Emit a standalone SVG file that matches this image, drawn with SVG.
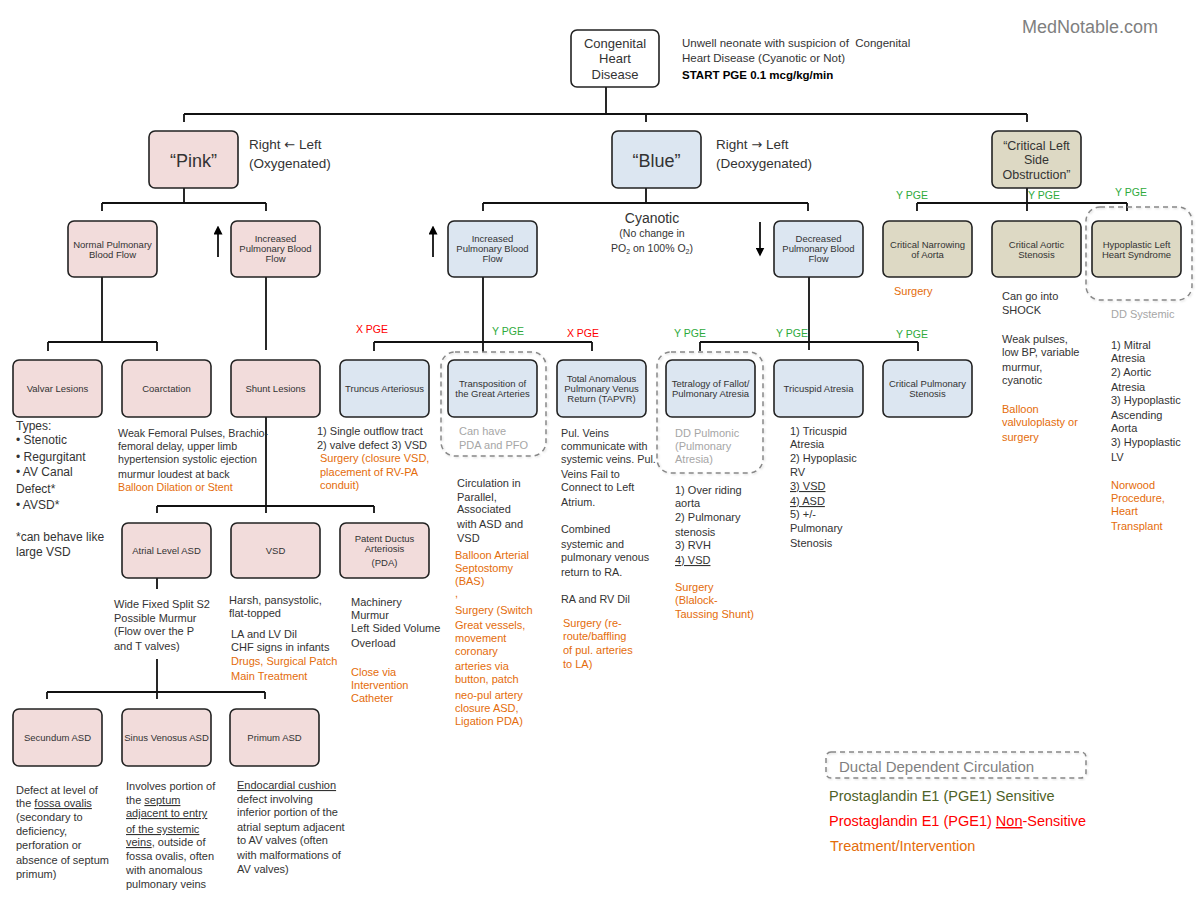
<svg xmlns="http://www.w3.org/2000/svg" width="1200" height="900" viewBox="0 0 1200 900">
<defs>
<marker id="ah" viewBox="0 0 10 10" refX="5" refY="5" markerWidth="5" markerHeight="5" orient="auto-start-reverse"><path d="M0 0 L10 5 L0 10 z" fill="#000"/></marker>
<filter id="sh" x="-10%" y="-10%" width="120%" height="120%"><feDropShadow dx="1" dy="1" stdDeviation="1" flood-color="#000" flood-opacity="0.15"/></filter>
</defs>
<style>
text{font-family:"Liberation Sans",Arial,sans-serif;fill:#333}
.box{stroke:#222;stroke-width:1.6}
.pink{fill:#f2dcdb}.blue{fill:#dce6f1}.tan{fill:#ddd9c4}.white{fill:#fff}
.bl{font-size:9.5px;text-anchor:middle;fill:#333}
.t{font-size:11px}
.o{fill:#e46c0a}
.g{fill:#a6a6a6}
.yp{fill:#2eaa3c;font-size:10.5px;text-anchor:middle}
.xp{fill:#ff0000;font-size:10.5px;text-anchor:middle}
.dash{fill:none;stroke:#888;stroke-width:1.5;stroke-dasharray:5 4}
.con path{fill:none;stroke:#111;stroke-width:1.8}
.u{text-decoration:underline}
.arr{font-family:"DejaVu Sans",sans-serif;font-size:13px}
</style>
<rect width="1200" height="900" fill="#fff"/>

<g id="connectors" class="con">
<path d="M606 87 V114 M184 114 H1027 M184 114 V122 M646 114 V122 M1027 114 V122"/>
<path d="M184 188 V203 M102 203 H266 M102 203 V211 M266 203 V211"/>
<path d="M646 188 V203 M483 203 H808 M483 203 V211 M808 203 V211"/>
<path d="M1027 188 V211 M917 203 H1127 M917 203 V211 M1127 203 V211"/>
<path d="M102 277 V342 M48 342 H157 M48 342 V351 M157 342 V351"/>
<path d="M266 277 V350"/>
<path d="M483 277 V352 M374 342 H592 M374 342 V351 M592 342 V351"/>
<path d="M809 277 V350 M700 342 H918 M700 342 V351 M918 342 V351"/>
<path d="M266 417 V513 M157 506 H374 M157 506 V513 M374 506 V513"/>
<path d="M157 578 V589 M157 659 V692 M47 692 H265 M47 692 V699 M157 692 V699 M265 692 V699"/>
<path d="M218 257 V230" stroke-width="1.5" marker-end="url(#ah)"/>
<path d="M433 257 V230" stroke-width="1.5" marker-end="url(#ah)"/>
<path d="M760 222 V252" stroke-width="1.5" marker-end="url(#ah)"/>
</g>

<text x="1022" y="33" style="font-size:18px;fill:#7f7f7f">MedNotable.com</text>

<g id="n-chd">
<rect class="box white" x="571" y="30" width="88" height="57" rx="6"/>
<text style="font-size:13px;text-anchor:middle"><tspan x="615" y="48">Congenital</tspan><tspan x="615" y="63">Heart</tspan><tspan x="615" y="79">Disease</tspan></text>
<text style="font-size:11.5px"><tspan x="682" y="47">Unwell neonate with suspicion of&#160; Congenital</tspan><tspan x="682" y="62">Heart Disease (Cyanotic or Not)</tspan><tspan x="682" y="79" style="font-weight:bold;fill:#000">START PGE 0.1 mcg/kg/min</tspan></text>
</g>

<g id="n-pink">
<rect class="box pink" x="149" y="131" width="89" height="57" rx="6"/>
<text x="193.5" y="167" style="font-size:18px;text-anchor:middle">“Pink”</text>
<text style="font-size:13.5px"><tspan x="249" y="149">Right <tspan class="arr">←</tspan> Left</tspan><tspan x="249" y="168">(Oxygenated)</tspan></text>
</g>

<g id="n-blue">
<rect class="box blue" x="612" y="131" width="89" height="57" rx="6"/>
<text x="656.5" y="167" style="font-size:18px;text-anchor:middle">“Blue”</text>
<text style="font-size:13.5px"><tspan x="716" y="149">Right <tspan class="arr">→</tspan> Left</tspan><tspan x="716" y="168">(Deoxygenated)</tspan></text>
<text style="text-anchor:middle"><tspan x="652" y="223" style="font-size:14px">Cyanotic</tspan><tspan x="652" y="237" style="font-size:10.5px">(No change in</tspan><tspan x="652" y="252" style="font-size:10.5px">PO<tspan style="font-size:7px" dy="2">2</tspan><tspan dy="-2"> on 100% O</tspan><tspan style="font-size:7px" dy="2">2</tspan><tspan dy="-2">)</tspan></tspan></text>
</g>

<g id="n-clso">
<rect class="box tan" x="992" y="131" width="89" height="57" rx="6"/>
<text style="font-size:12.5px;text-anchor:middle"><tspan x="1036.5" y="150">“Critical Left</tspan><tspan x="1036.5" y="164">Side</tspan><tspan x="1036.5" y="179">Obstruction”</tspan></text>
<text class="yp" x="912" y="199">Y PGE</text>
<text class="yp" x="1044" y="199">Y PGE</text>
<text class="yp" x="1131" y="196">Y PGE</text>
</g>

<g id="n-normal">
<rect class="box pink" x="68" y="221" width="89" height="56" rx="6"/>
<text class="bl"><tspan x="112.5" y="248">Normal Pulmonary</tspan><tspan x="112.5" y="258">Blood Flow</tspan></text>
</g>
<g id="n-incpink">
<rect class="box pink" x="231" y="221" width="89" height="56" rx="6"/>
<text class="bl"><tspan x="275.5" y="242">Increased</tspan><tspan x="275.5" y="252">Pulmonary Blood</tspan><tspan x="275.5" y="262">Flow</tspan></text>
</g>
<g id="n-incblue">
<rect class="box blue" x="448" y="221" width="89" height="56" rx="6"/>
<text class="bl"><tspan x="492.5" y="242">Increased</tspan><tspan x="492.5" y="252">Pulmonary Blood</tspan><tspan x="492.5" y="262">Flow</tspan></text>
<text class="xp" x="372" y="333">X PGE</text>
<text class="yp" x="508" y="335">Y PGE</text>
<text class="xp" x="583" y="337">X PGE</text>
</g>
<g id="n-dec">
<rect class="box blue" x="774" y="221" width="89" height="56" rx="6"/>
<text class="bl"><tspan x="818.5" y="242">Decreased</tspan><tspan x="818.5" y="252">Pulmonary Blood</tspan><tspan x="818.5" y="262">Flow</tspan></text>
<text class="yp" x="690" y="337">Y PGE</text>
<text class="yp" x="792" y="337">Y PGE</text>
<text class="yp" x="912" y="338">Y PGE</text>
</g>
<g id="n-cna">
<rect class="box tan" x="883" y="221" width="89" height="56" rx="6"/>
<text class="bl"><tspan x="927.5" y="248">Critical Narrowing</tspan><tspan x="927.5" y="258">of Aorta</tspan></text>
<text class="t o" x="894" y="295">Surgery</text>
</g>
<g id="n-cas">
<rect class="box tan" x="992" y="221" width="89" height="56" rx="6"/>
<text class="bl"><tspan x="1036.5" y="248">Critical Aortic</tspan><tspan x="1036.5" y="258">Stenosis</tspan></text>
<text class="t"><tspan x="1002" y="300">Can go into</tspan><tspan x="1002" y="314">SHOCK</tspan><tspan x="1002" y="343">Weak pulses,</tspan><tspan x="1002" y="356">low BP, variable</tspan><tspan x="1002" y="371">murmur,</tspan><tspan x="1002" y="384">cyanotic</tspan></text>
<text class="t o"><tspan x="1002" y="413">Balloon</tspan><tspan x="1002" y="426">valvuloplasty or</tspan><tspan x="1002" y="441">surgery</tspan></text>
</g>
<g id="n-hlhs">
<rect class="dash" x="1086" y="207" width="106" height="93" rx="14" filter="url(#sh)"/>
<rect class="box tan" x="1092" y="221" width="89" height="56" rx="6"/>
<text class="bl"><tspan x="1136.5" y="248">Hypoplastic Left</tspan><tspan x="1136.5" y="258">Heart Syndrome</tspan></text>
<text class="t g" x="1111" y="318">DD Systemic</text>
<text class="t"><tspan x="1111" y="349">1) Mitral</tspan><tspan x="1111" y="362">Atresia</tspan><tspan x="1111" y="376">2) Aortic</tspan><tspan x="1111" y="391">Atresia</tspan><tspan x="1111" y="404">3) Hypoplastic</tspan><tspan x="1111" y="419">Ascending</tspan><tspan x="1111" y="432">Aorta</tspan><tspan x="1111" y="446">3) Hypoplastic</tspan><tspan x="1111" y="461">LV</tspan></text>
<text class="t o"><tspan x="1111" y="489">Norwood</tspan><tspan x="1111" y="502">Procedure,</tspan><tspan x="1111" y="515">Heart</tspan><tspan x="1111" y="530">Transplant</tspan></text>
</g>

<g id="n-valvar">
<rect class="box pink" x="13" y="360" width="89" height="57" rx="6"/>
<text class="bl" x="57.5" y="392">Valvar Lesions</text>
<text style="font-size:12px"><tspan x="16" y="430">Types:</tspan><tspan x="16" y="444">• Stenotic</tspan><tspan x="16" y="461">• Regurgitant</tspan><tspan x="16" y="476">• AV Canal</tspan><tspan x="16" y="493">Defect*</tspan><tspan x="16" y="509">• AVSD*</tspan><tspan x="16" y="541">*can behave like</tspan><tspan x="16" y="556">large VSD</tspan></text>
</g>
<g id="n-coarct">
<rect class="box pink" x="122" y="360" width="89" height="57" rx="6"/>
<text class="bl" x="166.5" y="392">Coarctation</text>
<text class="t" style="font-size:10.7px"><tspan x="118" y="437">Weak Femoral Pulses, Brachio-</tspan><tspan x="118" y="450">femoral delay, upper limb</tspan><tspan x="118" y="463">hypertension systolic ejection</tspan><tspan x="118" y="478">murmur loudest at back</tspan><tspan x="118" y="491" class="o">Balloon Dilation or Stent</tspan></text>
</g>
<g id="n-shunt">
<rect class="box pink" x="231" y="360" width="89" height="57" rx="6"/>
<text class="bl" x="275.5" y="392">Shunt Lesions</text>
</g>
<g id="n-truncus">
<rect class="box blue" x="340" y="360" width="89" height="57" rx="6"/>
<text class="bl" x="384.5" y="392">Truncus Arteriosus</text>
<text class="t"><tspan x="317" y="435">1) Single outflow tract</tspan><tspan x="317" y="449">2) valve defect 3) VSD</tspan></text>
<text class="t o"><tspan x="320" y="462">Surgery (closure VSD,</tspan><tspan x="320" y="476">placement of RV-PA</tspan><tspan x="320" y="489">conduit)</tspan></text>
</g>
<g id="n-tga">
<rect class="dash" x="441" y="352" width="105" height="104" rx="14" filter="url(#sh)"/>
<rect class="box blue" x="448" y="360" width="89" height="57" rx="6"/>
<text class="bl"><tspan x="492.5" y="387">Transposition of</tspan><tspan x="492.5" y="397">the Great Arteries</tspan></text>
<text class="t g"><tspan x="459" y="435">Can have</tspan><tspan x="459" y="449">PDA and PFO</tspan></text>
<text class="t"><tspan x="457" y="487">Circulation in</tspan><tspan x="457" y="501">Parallel,</tspan><tspan x="457" y="513">Associated</tspan><tspan x="457" y="528">with ASD and</tspan><tspan x="457" y="542">VSD</tspan></text>
<text class="t o"><tspan x="455" y="559">Balloon Arterial</tspan><tspan x="455" y="572">Septostomy</tspan><tspan x="455" y="585">(BAS)</tspan><tspan x="455" y="597">,</tspan><tspan x="455" y="614">Surgery (Switch</tspan><tspan x="455" y="629">Great vessels,</tspan><tspan x="455" y="642">movement</tspan><tspan x="455" y="655">coronary</tspan><tspan x="455" y="670">arteries via</tspan><tspan x="455" y="683">button, patch</tspan><tspan x="455" y="699">neo-pul artery</tspan><tspan x="455" y="712">closure ASD,</tspan><tspan x="455" y="725">Ligation PDA)</tspan></text>
</g>
<g id="n-tapvr">
<rect class="box blue" x="557" y="360" width="89" height="57" rx="6"/>
<text class="bl"><tspan x="601.5" y="382">Total Anomalous</tspan><tspan x="601.5" y="392">Pulmonary Venus</tspan><tspan x="601.5" y="402">Return (TAPVR)</tspan></text>
<text class="t" style="font-size:10.8px"><tspan x="561" y="437">Pul. Veins</tspan><tspan x="561" y="450">communicate with</tspan><tspan x="561" y="463">systemic veins. Pul.</tspan><tspan x="561" y="478">Veins Fail to</tspan><tspan x="561" y="491">Connect to Left</tspan><tspan x="561" y="506">Atrium.</tspan><tspan x="561" y="533">Combined</tspan><tspan x="561" y="548">systemic and</tspan><tspan x="561" y="561">pulmonary venous</tspan><tspan x="561" y="576">return to RA.</tspan><tspan x="561" y="603">RA and RV Dil</tspan></text>
<text class="t o"><tspan x="563" y="627">Surgery (re-</tspan><tspan x="563" y="640">route/baffling</tspan><tspan x="563" y="654">of pul. arteries</tspan><tspan x="563" y="668">to LA)</tspan></text>
</g>
<g id="n-tof">
<rect class="dash" x="657" y="352" width="106" height="121" rx="14" filter="url(#sh)"/>
<rect class="box blue" x="666" y="360" width="89" height="57" rx="6"/>
<text class="bl"><tspan x="710.5" y="387">Tetralogy of Fallot/</tspan><tspan x="710.5" y="397">Pulmonary Atresia</tspan></text>
<text class="t g"><tspan x="675" y="437">DD Pulmonic</tspan><tspan x="675" y="450">(Pulmonary</tspan><tspan x="675" y="463">Atresia)</tspan></text>
<text class="t"><tspan x="675" y="494">1) Over riding</tspan><tspan x="675" y="507">aorta</tspan><tspan x="675" y="521">2) Pulmonary</tspan><tspan x="675" y="536">stenosis</tspan><tspan x="675" y="549">3) RVH</tspan><tspan x="675" y="564" class="u">4) VSD</tspan></text>
<text class="t o"><tspan x="675" y="591">Surgery</tspan><tspan x="675" y="604">(Blalock-</tspan><tspan x="675" y="618">Taussing Shunt)</tspan></text>
</g>
<g id="n-tricuspid">
<rect class="box blue" x="774" y="360" width="89" height="57" rx="6"/>
<text class="bl" x="818.5" y="392">Tricuspid Atresia</text>
<text class="t"><tspan x="790" y="435">1) Tricuspid</tspan><tspan x="790" y="448">Atresia</tspan><tspan x="790" y="462">2) Hypoplasic</tspan><tspan x="790" y="476">RV</tspan><tspan x="790" y="490" class="u">3) VSD</tspan><tspan x="790" y="505" class="u">4) ASD</tspan><tspan x="790" y="518">5) +/-</tspan><tspan x="790" y="532">Pulmonary</tspan><tspan x="790" y="547">Stenosis</tspan></text>
</g>
<g id="n-cps">
<rect class="box blue" x="883" y="360" width="89" height="57" rx="6"/>
<text class="bl"><tspan x="927.5" y="387">Critical Pulmonary</tspan><tspan x="927.5" y="397">Stenosis</tspan></text>
</g>

<g id="n-asd">
<rect class="box pink" x="122" y="523" width="89" height="55" rx="6"/>
<text class="bl" x="166.5" y="554">Atrial Level ASD</text>
<text class="t"><tspan x="114" y="608">Wide Fixed Split S2</tspan><tspan x="114" y="622">Possible Murmur</tspan><tspan x="114" y="635">(Flow over the P</tspan><tspan x="114" y="650">and T valves)</tspan></text>
</g>
<g id="n-vsd">
<rect class="box pink" x="231" y="523" width="89" height="55" rx="6"/>
<text class="bl" x="275.5" y="554">VSD</text>
<text class="t"><tspan x="229" y="604">Harsh, pansystolic,</tspan><tspan x="229" y="617">flat-topped</tspan><tspan x="231" y="638">LA and LV Dil</tspan><tspan x="231" y="651">CHF signs in infants</tspan></text>
<text class="t o"><tspan x="231" y="665">Drugs, Surgical Patch</tspan><tspan x="231" y="680">Main Treatment</tspan></text>
</g>
<g id="n-pda">
<rect class="box pink" x="340" y="523" width="89" height="55" rx="6"/>
<text class="bl"><tspan x="384.5" y="542">Patent Ductus</tspan><tspan x="384.5" y="552">Arteriosis</tspan><tspan x="384.5" y="566">(PDA)</tspan></text>
<text class="t"><tspan x="351" y="606">Machinery</tspan><tspan x="351" y="619">Murmur</tspan><tspan x="351" y="632">Left Sided Volume</tspan><tspan x="351" y="647">Overload</tspan></text>
<text class="t o"><tspan x="351" y="676">Close via</tspan><tspan x="351" y="689">Intervention</tspan><tspan x="351" y="702">Catheter</tspan></text>
</g>

<g id="n-secundum">
<rect class="box pink" x="13" y="709" width="89" height="57" rx="6"/>
<text class="bl" x="57.5" y="741">Secundum ASD</text>
<text class="t"><tspan x="16" y="794">Defect at level of</tspan><tspan x="16" y="807">the <tspan class="u">fossa ovalis</tspan></tspan><tspan x="16" y="821">(secondary to</tspan><tspan x="16" y="835">deficiency,</tspan><tspan x="16" y="849">perforation or</tspan><tspan x="16" y="864">absence of septum</tspan><tspan x="16" y="878">primum)</tspan></text>
</g>
<g id="n-sinus">
<rect class="box pink" x="122" y="709" width="89" height="57" rx="6"/>
<text class="bl" x="166.5" y="741">Sinus Venosus ASD</text>
<text class="t"><tspan x="126" y="790">Involves portion of</tspan><tspan x="126" y="804">the <tspan class="u">septum</tspan></tspan><tspan x="126" y="817" class="u">adjacent to entry</tspan><tspan x="126" y="833" class="u">of the systemic</tspan><tspan x="126" y="846"><tspan class="u">veins</tspan>, outside of</tspan><tspan x="126" y="860">fossa ovalis, often</tspan><tspan x="126" y="874">with anomalous</tspan><tspan x="126" y="888">pulmonary veins</tspan></text>
</g>
<g id="n-primum">
<rect class="box pink" x="230" y="709" width="89" height="57" rx="6"/>
<text class="bl" x="274.5" y="741">Primum ASD</text>
<text class="t"><tspan x="237" y="789" class="u">Endocardial cushion</tspan><tspan x="237" y="803">defect involving</tspan><tspan x="237" y="816">inferior portion of the</tspan><tspan x="237" y="831">atrial septum adjacent</tspan><tspan x="237" y="844">to AV valves (often</tspan><tspan x="237" y="859">with malformations of</tspan><tspan x="237" y="873">AV valves)</tspan></text>
</g>

<g id="legend">
<rect class="dash" x="826" y="752" width="260" height="26" rx="5" filter="url(#sh)"/>
<text x="839" y="772" style="font-size:15px;fill:#7f7f7f">Ductal Dependent Circulation</text>
<text x="829" y="801" style="font-size:14.5px;fill:#4f6228">Prostaglandin E1 (PGE1) Sensitive</text>
<text x="829" y="826" style="font-size:14.5px;fill:#ff0000">Prostaglandin E1 (PGE1) <tspan class="u">Non</tspan>-Sensitive</text>
<text x="830" y="851" style="font-size:14.5px;fill:#e46c0a">Treatment/Intervention</text>
</g>
</svg>
